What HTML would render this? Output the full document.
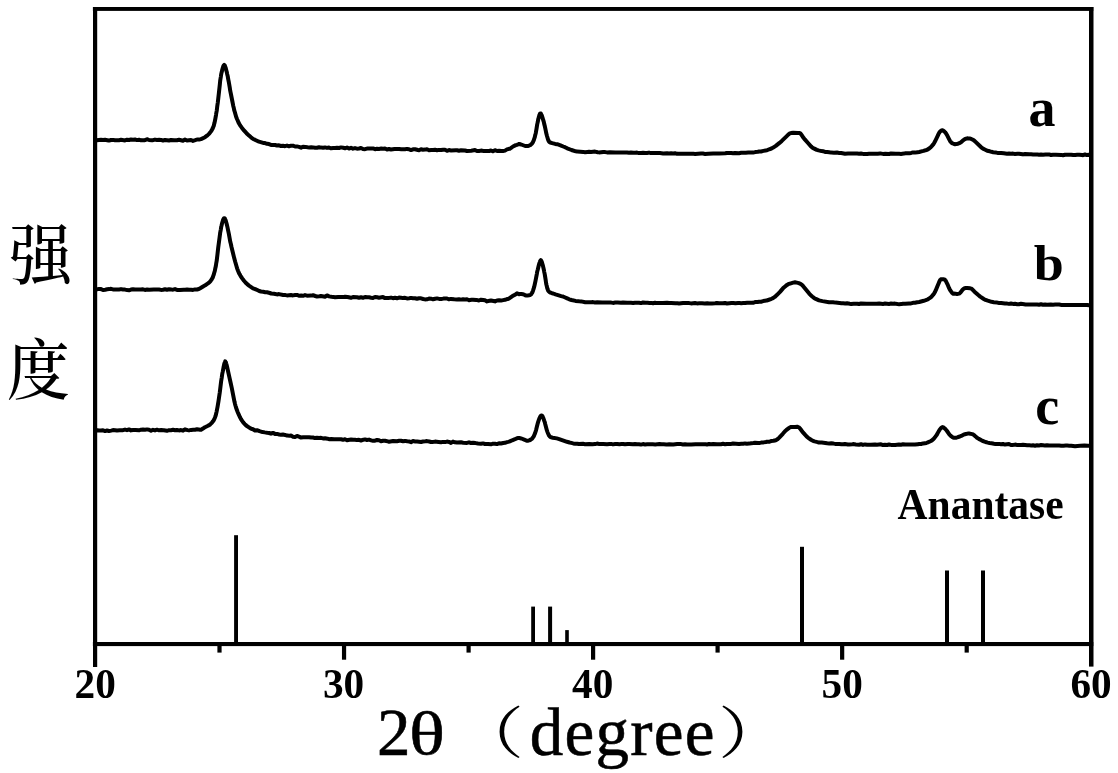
<!DOCTYPE html>
<html lang="zh">
<head>
<meta charset="utf-8">
<title>XRD</title>
<style>
html,body{margin:0;padding:0;background:#fff;}
body{width:1118px;height:773px;position:relative;overflow:hidden;color:#000;
 font-family:"Liberation Serif","Noto Serif CJK SC",serif;}
svg{position:absolute;left:0;top:0;display:block;}
.t{position:absolute;white-space:pre;line-height:1;margin:0;transform-origin:0 0;}
.tick{font-weight:bold;font-size:41.25px;width:80px;text-align:center;top:664.3px;}
.lab{font-weight:bold;font-size:54px;}
.ana{font-weight:bold;font-size:41.5px;transform:scaleY(1.09);}
.xl{font-size:67px;top:698.6px;-webkit-text-stroke:0.55px #000;}
.cjk{font-family:"Noto Serif CJK SC","Liberation Serif",serif;font-size:63px;font-weight:500;transform:scaleY(1.04);}
.par{font-family:"Noto Serif CJK SC",serif;font-size:56px;top:700.5px;transform:scaleX(1.25);}
</style>
</head>
<body>
<svg width="1118" height="773" viewBox="0 0 1118 773">
<rect x="0" y="0" width="1118" height="773" fill="#fff"/>
<g fill="none" stroke="#000" stroke-linejoin="round" stroke-linecap="butt">
<path stroke-width="4.00" d="M95.0 140.1L96.8 140.1L97.0 140.2L101.0 139.8L103.0 140.0L105.0 139.8L108.5 140.5L109.0 140.6L111.0 140.0L113.0 139.9L115.0 140.3L119.0 140.2L121.0 139.8L125.0 140.4L127.0 139.7L129.0 140.0L131.0 139.5L133.0 139.7L135.0 139.5L137.0 140.1L139.0 139.7L141.0 140.3L144.5 140.2L145.0 140.1L147.0 139.2L149.0 140.0L151.8 140.2L153.0 140.2L155.0 139.6L157.0 140.0L159.2 139.8L161.0 139.9L163.0 140.6L165.0 139.9L169.0 140.5L171.0 140.0L174.2 140.2L177.0 140.2L179.0 139.7L183.0 140.7L185.0 139.6L187.0 140.5L191.0 140.0L193.0 140.9L195.2 140.2L197.0 139.5L199.2 139.5L201.0 139.1L205.0 137.2L207.0 135.7L208.2 134.6L209.5 133.3L210.8 131.6L211.8 130.1L212.5 128.8L213.0 127.7L213.5 126.4L213.8 125.7L214.0 124.8L214.2 123.9L214.5 122.9L215.0 120.5L215.5 117.9L216.0 115.1L216.2 113.6L216.5 112.0L216.8 110.3L217.0 108.5L217.2 106.6L217.8 102.5L218.8 93.7L219.8 84.7L220.0 82.6L220.2 80.6L220.5 78.7L220.8 77.0L221.0 75.5L221.2 74.2L221.5 72.9L221.8 71.8L222.2 69.8L222.8 68.0L223.2 66.5L223.5 65.9L223.8 65.4L224.0 65.1L224.2 64.9L224.5 65.1L224.8 65.5L225.0 66.0L225.2 66.7L225.8 68.3L226.2 70.1L226.8 72.1L227.2 74.2L227.8 76.6L228.2 79.2L228.8 82.0L229.8 87.9L230.2 90.7L231.0 94.5L232.5 102.0L233.2 105.7L233.8 108.0L234.2 110.1L234.8 112.0L235.5 114.6L236.2 117.0L237.0 119.0L237.8 120.8L238.5 122.5L239.5 124.3L240.5 125.9L241.8 127.7L244.2 130.7L246.5 133.2L249.0 135.6L251.0 137.3L253.2 139.0L254.8 139.7L259.0 141.7L263.2 142.9L265.0 143.1L267.0 143.8L269.0 144.1L271.0 144.9L274.2 145.0L275.0 145.0L277.0 145.5L279.0 145.3L281.0 146.0L283.0 145.8L285.0 146.2L287.0 145.6L289.0 146.3L291.0 145.7L293.0 145.7L295.0 146.5L297.0 146.4L299.0 146.9L301.0 147.7L303.0 146.7L305.2 146.9L307.5 147.3L309.2 147.4L311.2 147.3L313.2 147.4L315.0 147.7L317.0 147.7L319.0 147.2L321.2 147.6L323.0 147.7L325.0 147.4L327.0 147.9L329.0 147.5L331.0 148.3L333.2 148.0L335.2 148.0L337.0 147.8L339.0 148.0L341.0 147.4L343.2 147.8L345.0 148.3L347.0 147.5L349.0 148.6L351.0 147.7L353.0 148.7L355.0 148.1L357.0 148.7L359.0 148.5L361.0 148.0L363.0 149.0L365.0 149.2L367.0 148.6L370.0 148.6L371.2 148.6L373.0 148.4L375.0 149.2L377.0 148.7L379.0 148.9L381.2 148.6L383.2 148.7L385.0 148.5L387.0 149.5L389.0 149.0L391.0 149.5L394.5 149.0L395.2 149.0L397.2 149.1L399.2 149.1L401.2 149.3L403.5 149.2L405.0 149.3L407.0 148.9L409.0 149.2L411.0 150.1L413.0 149.3L415.0 149.2L418.0 150.0L419.0 150.2L421.0 149.2L423.0 149.7L425.2 149.6L427.0 149.2L429.0 150.2L431.2 150.0L433.2 150.0L435.0 149.8L437.0 150.3L439.0 149.9L441.0 150.1L443.2 149.8L445.0 149.8L447.0 150.8L449.0 150.1L451.0 150.4L455.8 150.2L457.0 150.2L459.0 150.7L461.0 150.3L465.0 150.5L467.0 151.0L471.2 150.7L475.0 150.1L477.0 151.0L479.0 151.0L481.0 150.6L483.5 150.9L489.0 151.0L491.0 150.5L493.0 151.3L495.0 150.2L497.0 151.0L499.2 150.8L501.5 150.9L503.0 151.0L505.0 150.6L507.0 149.4L509.0 148.8L509.8 148.7L510.8 148.1L513.0 146.5L515.8 145.1L516.8 144.8L517.0 144.8L518.8 144.0L519.0 143.9L519.8 143.9L520.0 144.3L521.2 144.5L525.2 146.0L526.2 146.1L527.8 146.0L529.2 145.6L530.5 144.9L531.2 144.3L532.0 143.5L532.8 142.4L533.2 141.4L533.8 140.3L534.2 138.8L534.8 137.1L535.2 135.1L535.5 134.1L535.8 132.9L536.0 131.6L536.5 128.8L537.2 124.4L537.5 123.1L537.8 121.8L538.2 119.4L538.8 117.4L539.2 115.6L539.5 114.8L539.8 114.2L540.0 113.7L540.2 113.4L540.5 113.4L540.8 113.5L541.0 113.9L541.2 114.3L541.8 115.5L542.5 117.6L543.2 120.0L543.8 121.8L544.2 123.9L544.8 126.1L545.8 130.9L546.2 133.0L547.0 136.0L547.5 137.7L548.0 139.3L548.2 140.0L548.5 140.6L548.8 141.1L549.0 141.5L549.5 142.1L550.2 142.5L552.2 143.1L555.2 143.9L557.2 144.2L560.5 145.3L563.2 146.5L565.0 147.2L567.2 148.3L571.5 150.0L575.8 151.3L577.2 151.6L580.2 151.7L583.2 151.9L585.0 152.2L587.5 151.9L589.0 151.7L591.0 152.0L595.0 151.6L597.8 152.2L599.0 152.4L603.2 152.0L605.2 152.1L607.0 152.4L609.8 152.3L615.5 152.4L617.8 152.6L621.5 152.5L623.0 152.4L625.0 152.6L627.0 152.5L629.0 152.8L631.0 152.5L633.5 152.7L635.2 152.7L637.0 152.6L639.0 153.1L641.2 153.0L643.0 152.8L645.2 153.0L647.0 153.0L649.0 152.6L651.0 153.1L655.5 153.1L657.2 153.0L660.0 153.1L661.5 153.2L663.2 153.4L667.0 153.3L669.0 153.6L671.2 153.3L673.2 153.4L675.0 153.2L677.0 153.8L680.8 153.7L686.5 153.7L691.2 153.7L693.5 153.8L695.0 153.9L701.0 153.6L703.0 153.6L705.0 153.9L708.2 153.7L713.2 153.4L717.0 153.6L719.2 153.4L725.2 153.3L727.0 153.0L729.2 153.1L731.2 153.0L733.0 153.2L735.0 152.9L739.0 153.2L741.2 152.8L743.5 152.7L745.8 152.7L748.2 152.5L749.2 152.4L753.0 152.6L755.2 152.1L757.8 151.8L759.2 151.5L761.0 151.5L763.5 150.9L765.5 150.5L767.0 150.3L769.2 149.3L771.5 148.5L773.2 147.6L775.8 145.9L779.5 142.9L781.8 140.9L786.5 136.4L788.5 134.4L789.2 133.8L790.0 133.4L791.0 133.1L793.2 132.8L798.0 132.9L799.5 133.0L800.0 133.2L800.5 133.5L801.2 134.4L802.2 135.9L803.5 137.8L804.8 139.4L808.0 143.0L811.2 146.6L812.2 147.5L813.8 148.4L816.8 149.9L818.5 150.4L821.5 151.1L823.0 151.2L825.0 151.9L827.2 151.9L829.2 152.2L831.2 152.6L834.0 152.7L837.0 152.6L839.2 152.9L841.2 153.0L845.0 153.7L848.0 153.5L851.2 153.4L853.5 153.6L855.8 153.6L857.2 153.5L859.0 153.7L861.0 153.5L863.0 153.9L867.2 153.9L869.0 153.7L871.2 153.8L875.8 153.7L877.8 153.7L880.0 153.6L881.2 153.6L883.0 153.9L885.2 153.8L889.0 154.0L891.0 153.5L895.8 153.8L897.8 153.8L899.2 153.8L901.0 153.9L903.8 153.6L905.5 153.3L907.5 153.2L909.2 153.2L911.2 152.9L913.0 152.4L915.0 152.6L917.5 152.2L919.2 152.0L921.5 151.4L923.5 150.9L925.2 150.3L926.8 150.0L927.2 149.7L929.5 148.2L931.0 146.9L932.2 145.6L933.0 144.7L933.8 143.6L934.8 141.8L936.5 138.4L937.8 135.7L938.5 134.0L939.0 133.1L939.5 132.3L940.2 131.4L941.0 130.8L941.8 130.4L942.2 130.3L942.8 130.3L943.2 130.6L944.5 131.6L945.2 132.3L946.0 133.4L946.8 134.7L948.8 138.6L950.0 140.9L950.8 141.9L951.5 142.7L952.8 143.5L954.0 144.0L955.0 144.2L956.2 144.1L958.0 143.7L960.0 142.9L961.0 142.3L963.5 140.1L964.8 139.2L966.2 138.6L967.2 138.3L968.5 138.4L970.2 138.6L971.2 138.9L973.5 140.1L974.8 141.1L981.2 147.3L983.0 148.6L984.8 149.5L987.2 150.7L989.8 151.3L991.5 151.8L993.2 152.2L995.8 152.6L997.5 152.9L1001.2 153.0L1003.8 153.3L1007.0 153.7L1009.0 153.5L1011.0 153.7L1013.0 153.6L1015.0 154.0L1017.5 153.8L1019.0 153.8L1022.5 154.3L1023.0 154.4L1025.0 154.0L1029.5 154.3L1031.2 154.3L1033.0 154.5L1035.5 154.4L1037.5 154.5L1039.0 154.7L1041.0 154.5L1043.0 154.7L1045.5 154.5L1049.0 154.4L1051.0 155.0L1053.0 154.7L1055.8 154.8L1061.2 154.9L1063.0 155.2L1065.0 154.7L1067.5 154.7L1069.8 154.7L1071.2 154.8L1073.2 155.1L1075.2 155.0L1077.2 154.8L1079.2 154.8L1082.0 155.1L1083.0 155.2L1085.0 154.5L1087.0 155.1L1089.0 154.8L1091.0 155.2"/>
<path stroke-width="4.00" d="M95.0 289.4L96.8 289.4L97.8 289.1L99.0 288.9L101.0 289.1L103.0 290.0L105.2 289.7L107.2 289.3L109.2 289.1L111.0 288.8L113.0 289.4L115.5 289.5L119.0 289.5L121.0 289.1L123.0 289.5L125.0 289.6L127.2 290.1L129.0 290.3L131.0 289.6L133.0 289.3L135.0 289.6L137.5 289.4L139.2 289.4L141.0 289.6L143.0 289.3L145.0 289.9L147.0 289.6L149.2 289.8L153.8 289.4L155.2 289.4L157.0 289.6L159.0 289.5L161.0 289.9L163.0 289.8L165.0 289.3L167.0 289.8L169.0 289.3L171.5 289.6L173.0 289.7L175.0 289.1L177.0 289.9L179.8 289.9L183.8 289.7L185.2 289.7L187.0 289.5L189.0 289.8L191.2 289.7L193.0 289.9L195.0 289.4L197.0 289.5L198.8 289.0L200.2 288.2L203.5 286.2L205.2 285.3L207.2 283.9L208.2 283.3L209.5 282.2L210.5 281.1L211.5 279.7L212.2 278.4L212.8 277.4L213.2 276.1L213.8 274.6L214.2 272.9L214.8 271.0L215.2 268.8L215.5 267.6L215.8 266.3L216.0 265.0L216.2 263.5L216.5 261.8L216.8 260.1L217.0 258.2L217.5 254.1L218.2 247.8L219.0 241.8L219.5 238.0L220.0 234.3L220.2 232.6L220.5 231.1L220.8 229.6L221.0 228.2L221.2 226.9L221.5 225.8L222.0 223.6L222.5 221.8L223.0 220.2L223.2 219.6L223.5 219.0L223.8 218.5L224.0 218.2L224.5 218.2L224.8 218.4L225.0 218.8L225.2 219.3L225.5 220.0L226.0 221.5L226.5 223.2L227.0 225.2L227.5 227.4L228.0 229.8L228.8 233.7L229.8 239.1L230.2 241.5L230.8 243.8L231.5 247.0L234.2 258.1L235.2 261.8L236.5 266.2L237.2 268.6L238.0 270.8L238.8 272.6L239.5 274.1L240.5 275.8L242.2 278.4L244.0 280.8L245.5 282.5L247.2 284.2L249.0 285.6L253.0 288.3L255.2 289.1L257.8 290.3L259.2 291.0L261.0 291.5L263.2 291.8L265.2 292.2L267.0 292.3L269.8 293.0L271.2 293.5L274.0 293.8L275.2 294.0L277.0 294.4L279.0 294.1L283.2 295.0L285.5 295.1L287.0 295.4L291.0 295.1L293.0 295.4L295.2 295.0L297.0 294.9L299.0 295.8L301.2 295.6L303.0 295.8L305.0 295.1L307.0 295.7L311.0 295.6L313.0 295.2L315.2 296.0L317.0 296.5L319.5 296.3L321.0 296.0L325.0 296.7L327.0 295.4L329.0 296.4L331.5 296.8L333.2 296.9L335.0 297.3L338.2 297.0L339.2 296.9L341.5 297.0L343.0 297.1L345.0 296.7L347.5 297.0L351.0 297.8L353.0 297.0L357.0 297.2L359.0 297.7L361.0 297.2L363.0 297.8L365.0 297.0L367.2 297.3L369.0 297.3L371.2 297.7L373.0 297.9L375.0 297.0L377.2 297.3L379.0 297.7L383.0 297.1L385.0 298.1L387.2 297.9L389.2 297.9L391.0 297.6L393.0 298.2L395.0 297.8L397.0 298.3L399.0 297.6L401.0 297.7L403.0 298.1L405.0 297.8L407.0 298.4L409.2 298.2L411.0 297.9L413.0 298.3L415.0 298.2L417.0 298.7L419.0 298.2L421.0 298.3L423.2 299.0L425.0 299.4L427.0 299.3L429.0 298.6L431.0 298.7L433.0 299.3L435.2 298.7L437.0 298.4L439.2 298.9L441.0 299.1L443.5 298.6L445.0 298.4L447.0 298.5L449.0 299.3L451.0 298.9L454.2 299.3L457.0 299.5L459.0 299.2L461.0 299.6L463.0 299.2L465.0 299.5L467.0 299.3L469.0 300.2L471.5 299.8L473.0 299.7L476.2 300.0L477.2 300.1L479.0 300.5L481.0 299.7L485.0 300.3L487.0 301.4L489.5 300.8L491.0 300.5L493.5 301.0L495.0 301.4L497.0 300.5L499.0 300.3L501.0 300.6L503.2 300.1L505.0 299.8L507.0 299.1L507.8 299.0L508.8 298.7L512.5 296.1L515.5 294.4L517.0 293.3L518.8 294.1L519.0 294.2L520.2 294.0L521.5 294.0L522.8 294.2L524.0 294.6L525.5 295.4L526.2 295.6L527.2 295.6L529.2 295.2L530.0 295.1L530.5 294.8L531.0 294.4L531.5 293.8L532.0 293.0L532.5 292.0L533.0 290.7L533.5 289.2L534.0 287.4L534.5 285.4L535.0 283.2L535.5 280.8L536.8 274.1L537.2 271.7L537.8 269.5L538.5 266.5L539.2 263.7L539.8 262.1L540.0 261.4L540.2 260.9L540.8 260.1L541.2 260.7L541.5 261.2L541.8 261.8L542.0 262.5L542.5 264.2L543.0 266.1L543.5 268.2L544.0 270.5L544.2 271.8L544.5 273.2L544.8 274.6L545.8 280.9L546.0 282.4L546.2 283.7L546.5 285.0L546.8 286.1L547.0 287.1L547.2 288.0L547.5 288.9L547.8 289.6L548.0 290.2L548.2 290.7L548.8 291.4L549.5 292.1L550.5 292.7L552.0 293.2L553.2 293.5L555.5 294.4L561.2 296.1L563.0 296.5L565.2 297.5L567.2 298.4L569.2 299.3L571.5 300.0L575.5 300.9L579.2 301.3L581.2 301.4L585.2 302.2L587.8 302.3L591.5 302.3L593.0 302.1L595.0 302.5L597.2 302.3L602.2 302.4L606.0 302.4L607.5 302.5L609.2 302.4L611.2 302.6L613.0 302.9L615.2 302.6L617.8 302.6L621.0 302.8L623.0 302.5L627.2 302.8L631.0 302.8L633.0 303.0L635.0 302.7L637.2 302.8L639.0 302.7L641.0 303.1L643.0 302.5L645.5 302.8L647.5 302.8L649.5 303.0L651.8 303.1L653.0 303.2L655.0 302.7L657.0 303.1L660.0 302.9L661.2 302.9L663.0 303.1L667.0 302.8L669.0 303.1L671.2 302.9L675.5 303.2L677.5 303.3L679.0 303.5L683.0 303.0L685.5 303.1L689.2 303.1L691.0 303.4L695.0 303.0L697.0 303.4L699.2 303.3L702.0 303.3L704.8 303.4L707.2 303.3L709.2 303.5L712.0 303.4L715.2 303.3L717.0 303.0L719.2 303.2L722.8 303.3L725.0 303.0L727.0 303.5L731.5 303.0L733.2 303.0L735.5 303.2L738.0 303.1L739.5 303.1L741.2 303.2L743.2 303.1L745.0 303.1L747.2 302.8L752.0 302.8L753.0 302.8L755.0 302.1L757.5 302.0L759.2 301.7L761.0 301.7L763.2 301.1L766.5 300.6L768.2 300.0L771.5 298.8L773.0 298.1L774.8 296.9L776.8 295.1L780.0 291.9L783.2 288.1L784.8 286.7L787.0 284.9L788.2 284.2L790.8 283.3L793.2 282.6L795.0 282.3L796.8 282.6L798.8 283.1L800.5 283.8L801.2 284.3L802.2 285.1L803.2 286.2L809.2 293.6L810.5 295.0L812.2 296.5L814.0 297.9L815.8 298.9L819.0 300.4L822.5 301.1L829.0 302.2L833.0 302.2L835.5 302.6L839.5 302.9L841.2 303.2L843.2 303.3L845.2 303.5L847.0 303.3L849.8 303.8L851.0 303.9L853.8 303.7L857.2 303.7L859.0 304.0L861.0 303.5L866.5 303.8L868.0 303.8L869.2 303.7L871.2 303.8L873.5 303.7L876.5 303.8L879.2 303.6L883.0 303.9L885.0 303.6L889.0 303.9L891.0 303.6L893.0 303.8L895.0 303.6L897.5 304.0L899.2 304.2L901.2 304.1L903.0 303.7L905.2 303.7L909.0 303.4L911.0 303.4L913.0 302.8L915.0 302.8L917.2 302.3L919.2 302.0L923.8 300.8L925.8 300.2L927.5 299.5L929.2 298.4L930.8 297.3L932.2 295.8L933.2 294.7L934.0 293.6L934.8 292.3L935.8 290.2L937.2 286.7L939.0 282.4L939.8 280.7L940.2 279.9L940.5 279.6L941.0 279.3L942.0 279.2L943.5 279.3L944.2 279.4L944.8 279.6L945.2 280.2L945.8 280.9L946.5 282.3L947.5 284.3L949.0 287.9L949.8 289.5L950.5 290.7L951.5 292.1L952.2 293.0L953.0 293.6L953.5 293.8L954.2 293.7L955.0 293.6L957.0 294.0L959.0 293.6L959.5 293.4L960.0 293.0L960.8 292.1L962.2 290.2L963.2 289.1L963.8 288.7L964.5 288.3L965.8 288.1L967.2 288.0L970.2 288.3L971.2 288.6L972.0 289.0L973.0 290.1L974.5 291.7L978.0 294.8L980.2 296.6L983.8 299.0L985.5 299.9L987.8 300.7L991.5 301.8L993.8 302.2L997.2 302.6L999.2 303.0L1001.2 303.1L1005.0 303.5L1007.2 303.6L1009.0 303.9L1011.0 303.5L1013.0 303.9L1015.0 303.8L1017.2 304.2L1019.0 304.3L1021.0 303.8L1024.2 304.2L1025.5 304.4L1029.5 304.5L1031.5 304.4L1035.2 304.6L1037.2 304.5L1039.0 304.7L1041.0 304.2L1043.0 304.7L1045.0 304.5L1047.0 304.8L1050.8 304.6L1053.0 304.8L1055.2 304.6L1058.2 304.6L1059.2 304.6L1061.5 304.9L1065.2 305.0L1067.0 304.9L1069.2 305.1L1071.8 304.9L1074.2 305.0L1077.2 305.1L1079.2 304.9L1085.2 305.0L1087.0 304.9L1089.0 305.2L1091.0 304.9"/>
<path stroke-width="4.00" d="M95.0 430.4L96.8 430.4L97.0 430.1L99.0 430.5L101.2 430.5L103.0 430.2L105.0 431.1L107.0 430.5L109.0 431.0L111.2 430.6L113.0 430.1L115.2 430.2L117.0 430.5L119.8 430.3L122.2 430.2L123.0 430.2L125.0 429.6L127.0 430.2L129.0 429.4L131.0 430.4L133.0 430.0L135.5 430.0L139.0 430.3L141.0 429.7L143.0 429.6L145.0 429.8L147.0 429.4L149.0 429.8L151.0 430.8L153.0 429.8L155.0 430.4L157.0 429.7L159.0 430.3L161.2 430.1L163.8 430.2L165.5 430.5L167.0 430.8L169.0 430.2L171.0 430.2L173.0 429.8L175.0 430.3L177.0 430.0L179.0 430.4L181.0 430.1L183.0 430.7L185.0 429.3L187.5 430.1L189.0 430.4L191.2 429.9L193.2 429.7L195.0 429.8L197.0 429.3L200.2 429.8L201.0 429.7L203.8 428.0L205.0 427.2L208.0 425.8L209.8 424.7L211.2 423.4L212.2 422.3L213.0 421.3L213.8 420.1L214.5 418.6L215.0 417.4L215.5 416.0L215.8 415.1L216.0 414.2L216.5 412.1L217.0 409.7L217.5 407.1L218.0 404.2L218.5 401.1L219.0 397.7L219.8 392.3L220.5 386.6L221.2 380.8L221.5 379.0L221.8 377.3L222.0 375.6L222.2 374.2L222.8 371.4L223.5 367.5L224.0 365.1L224.2 364.1L224.5 363.2L224.8 362.4L225.0 362.0L225.2 361.4L225.5 361.9L225.8 362.2L226.0 362.8L226.2 363.6L226.5 364.5L227.0 366.5L229.2 376.4L230.5 382.2L231.8 388.2L233.8 398.3L234.5 401.8L235.0 403.9L235.5 405.8L236.0 407.5L236.8 409.7L237.5 411.7L238.8 414.6L240.0 417.3L241.0 419.1L242.0 420.7L243.2 422.4L244.8 424.1L246.2 425.5L247.8 426.6L250.5 428.4L251.2 428.7L253.0 429.2L255.0 430.5L257.0 430.2L259.5 431.2L261.2 431.7L264.8 432.4L267.2 432.8L269.0 433.0L271.0 433.7L273.0 432.9L275.0 433.9L277.0 433.9L279.2 434.5L281.0 434.8L283.0 434.6L285.0 434.9L287.0 435.6L289.5 435.7L291.0 435.6L293.0 436.7L295.0 437.0L297.0 435.9L299.5 436.9L301.0 437.6L303.0 437.2L309.0 437.2L311.2 437.5L313.0 437.5L315.0 438.1L317.0 437.8L319.2 438.0L321.0 437.8L323.0 438.4L325.0 438.2L327.5 438.7L329.0 439.2L331.2 439.1L334.2 439.3L341.0 439.3L343.0 439.8L345.0 439.2L347.0 440.2L349.5 439.7L351.0 439.6L353.5 439.7L355.0 439.7L357.0 440.1L359.0 439.8L361.0 440.5L363.5 439.7L365.0 439.4L367.0 440.0L369.0 439.6L371.2 440.4L373.0 440.8L375.0 440.7L377.0 440.0L379.0 440.3L381.0 441.3L383.0 440.8L385.0 440.7L387.8 441.4L389.0 441.7L393.0 441.0L397.0 441.3L399.2 440.8L401.0 440.7L403.0 441.2L405.0 440.9L407.2 441.3L409.0 441.4L411.0 442.2L413.0 441.1L415.2 441.4L417.2 441.5L421.0 442.0L423.0 441.5L425.5 441.3L427.0 441.1L429.2 441.5L431.0 442.0L433.2 441.9L435.0 441.6L438.5 442.0L441.0 442.3L443.0 441.9L445.0 442.1L447.0 441.6L449.0 441.9L451.0 442.9L453.0 441.6L455.0 442.3L457.0 442.6L461.0 442.3L463.2 442.7L467.0 442.9L469.0 442.3L471.0 443.0L473.0 442.8L475.5 443.1L478.0 443.5L481.0 443.8L483.0 443.4L485.0 444.0L488.0 444.1L491.0 444.3L493.0 443.7L495.0 443.7L497.0 444.1L499.0 443.2L501.0 443.5L503.2 443.0L505.0 442.8L507.0 442.1L508.2 441.9L509.8 441.4L512.2 440.3L515.0 439.2L517.0 438.2L518.2 438.0L519.8 438.0L520.2 438.2L521.5 438.5L524.2 439.6L526.2 440.5L527.2 440.8L528.2 440.7L529.2 440.4L530.8 439.6L531.8 438.9L532.5 438.1L533.2 437.1L533.8 436.3L534.2 435.2L535.0 433.4L535.5 431.9L536.0 430.3L536.5 428.3L537.5 424.2L538.0 422.4L538.5 420.9L539.2 418.9L540.0 417.2L540.5 416.2L540.8 415.9L541.0 415.6L541.2 415.4L541.8 415.4L542.0 415.6L542.2 415.9L542.8 416.9L543.5 418.6L544.2 420.7L544.8 422.2L545.2 424.0L546.5 428.9L547.0 430.7L547.5 432.1L548.2 433.9L548.8 435.0L549.2 435.8L549.8 436.5L550.2 436.9L551.0 437.3L552.8 437.7L556.8 438.4L559.2 439.1L567.0 441.8L569.5 442.5L571.2 442.9L573.2 443.4L575.2 443.7L577.2 443.7L579.0 444.0L583.0 443.8L585.0 444.2L589.2 444.0L592.5 444.2L595.0 444.1L597.0 443.6L599.2 443.9L602.0 443.9L603.2 443.9L607.0 444.2L609.5 444.0L611.0 443.9L613.0 444.4L615.2 444.0L617.2 443.9L619.5 444.2L621.5 444.1L623.0 444.0L625.0 444.3L627.8 444.0L629.2 444.0L633.0 444.3L635.0 444.1L637.2 444.2L639.0 444.2L641.0 444.6L643.0 444.1L645.0 444.4L647.2 444.2L649.8 444.2L652.8 444.3L655.2 444.4L659.5 444.1L661.8 444.2L663.8 444.3L666.2 444.4L667.2 444.5L669.2 444.3L673.2 444.5L677.2 444.0L680.8 444.1L681.2 444.1L683.0 444.5L685.0 444.2L687.0 444.5L689.2 444.4L691.2 444.6L695.5 444.3L701.5 444.3L703.5 444.2L705.5 444.3L707.0 444.5L709.0 444.0L711.0 444.3L713.2 444.1L717.0 444.3L719.2 444.2L721.0 444.2L723.0 443.8L725.0 444.2L727.0 443.9L729.2 444.1L731.2 443.9L733.0 443.5L735.8 443.8L739.0 444.1L741.5 443.8L743.2 443.7L745.0 443.4L747.0 443.7L749.2 443.6L751.2 443.2L753.5 443.0L755.0 442.7L758.0 443.0L759.0 443.1L761.2 442.6L763.5 442.4L766.0 442.0L767.0 441.7L769.0 441.8L771.0 441.1L773.5 440.8L775.8 440.2L776.8 439.7L777.8 439.0L779.0 437.9L782.8 433.8L785.0 431.2L786.2 430.1L788.8 428.1L790.0 427.3L791.0 427.0L792.8 426.9L795.2 427.0L797.2 426.8L798.0 427.0L798.8 427.3L799.8 428.2L800.8 429.5L802.5 431.9L805.0 434.7L807.0 436.8L808.2 437.9L811.0 439.7L813.0 440.9L814.5 441.4L817.5 442.1L819.0 442.6L821.8 442.6L825.2 442.9L827.2 443.2L829.2 443.4L831.2 443.3L833.5 443.6L835.2 443.9L837.5 444.0L839.2 444.0L841.5 444.2L843.2 444.3L845.0 444.0L847.8 444.4L849.2 444.4L852.5 444.2L853.0 444.1L855.8 444.5L859.0 444.7L861.0 444.2L863.0 444.9L865.0 444.4L867.2 444.7L871.0 444.8L875.0 444.4L877.0 444.7L881.0 444.3L883.0 445.1L885.0 444.8L887.0 445.0L889.0 444.5L891.0 444.9L895.2 444.9L899.0 444.5L901.0 444.7L903.0 444.3L905.5 444.4L907.0 444.6L909.2 444.4L912.0 444.4L913.2 444.4L915.0 444.6L917.8 444.2L919.2 444.0L921.0 444.0L923.2 443.4L926.5 442.9L927.2 442.7L931.0 441.0L932.2 440.2L933.2 439.3L934.5 437.9L936.0 435.9L936.8 434.8L937.8 432.9L938.8 431.1L939.5 429.9L940.5 428.6L941.2 427.9L942.0 427.3L942.5 427.1L943.0 427.2L943.8 427.6L945.0 428.7L946.2 430.0L947.0 431.0L948.8 433.6L949.5 434.6L950.5 435.6L952.2 437.0L953.2 437.6L954.0 437.8L956.0 437.7L957.2 437.4L959.8 436.5L961.2 435.9L963.5 434.7L965.8 434.0L967.8 433.6L969.0 433.5L972.2 434.1L973.0 434.4L974.0 435.1L975.5 436.4L977.0 437.8L978.8 438.9L981.5 440.3L983.8 441.3L985.5 442.0L987.8 442.6L989.5 443.0L991.5 443.3L994.0 443.8L995.2 443.9L999.0 443.9L1001.0 444.3L1003.0 444.0L1005.0 444.6L1009.0 444.1L1011.0 445.0L1013.2 444.9L1015.0 444.6L1017.2 444.9L1020.2 445.0L1021.2 445.0L1023.0 444.8L1027.2 445.2L1029.5 445.3L1031.2 445.4L1033.0 445.3L1035.0 445.7L1037.0 445.2L1039.0 445.4L1041.0 445.1L1043.2 445.3L1045.0 445.6L1047.0 445.3L1049.2 445.6L1053.2 445.4L1055.8 445.5L1059.2 445.6L1061.2 445.8L1063.5 445.7L1065.8 445.6L1067.2 445.6L1069.2 445.7L1071.2 445.7L1075.0 446.2L1077.5 445.9L1080.2 445.8L1084.5 445.6L1088.0 445.7L1091.0 445.7"/>
</g>
<g fill="#000">
<rect x="92.9" y="7.0" width="1000.4" height="3.9"/>
<rect x="92.9" y="642.0" width="1000.4" height="4.1"/>
<rect x="93.0" y="7.0" width="4.2" height="660.0"/>
<rect x="1089.0" y="7.0" width="4.5" height="659.6"/>
<rect x="341.95" y="644" width="4.2" height="15.7"/>
<rect x="591.00" y="644" width="4.2" height="15.7"/>
<rect x="840.05" y="644" width="4.2" height="15.7"/>
<rect x="217.4" y="644" width="4.2" height="8.6"/>
<rect x="466.5" y="644" width="4.2" height="8.6"/>
<rect x="715.5" y="644" width="4.2" height="8.6"/>
<rect x="964.6" y="644" width="4.2" height="8.6"/>
<rect x="234.1" y="535.2" width="3.9" height="108.8"/>
<rect x="531.2" y="606.6" width="3.8" height="37.4"/>
<rect x="548.1" y="606.6" width="4.0" height="37.4"/>
<rect x="565.2" y="630.1" width="3.6" height="13.9"/>
<rect x="800.0" y="546.8" width="4.0" height="97.2"/>
<rect x="945.0" y="570.5" width="4.0" height="73.5"/>
<rect x="981.0" y="570.5" width="4.0" height="73.5"/>
</g>
</svg>
<div class="t tick" style="left:55.2px">20</div>
<div class="t tick" style="left:303.6px">30</div>
<div class="t tick" style="left:552.7px">40</div>
<div class="t tick" style="left:802.2px">50</div>
<div class="t tick" style="left:1051px">60</div>
<div class="t lab" style="left:1028.5px;top:80.8px">a</div>
<div class="t lab" style="left:1033.8px;top:236.9px;transform:scaleY(0.955)">b</div>
<div class="t lab" style="left:1035.3px;top:379.4px">c</div>
<div class="t ana" style="left:897.6px;top:481.8px">Anantase</div>
<div class="t cjk" style="left:9.3px;top:218.3px">强</div>
<div class="t cjk" style="left:6.8px;top:332.6px">度</div>
<div class="t xl" style="left:377px">2</div>
<div class="t xl" style="left:409px;top:702.2px;transform:scale(1.12,0.925)">θ</div>
<div class="t par" style="left:454px">（</div>
<div class="t xl" style="left:529.8px;letter-spacing:1.25px">degree</div>
<div class="t par" style="left:718px">）</div>
</body>
</html>
